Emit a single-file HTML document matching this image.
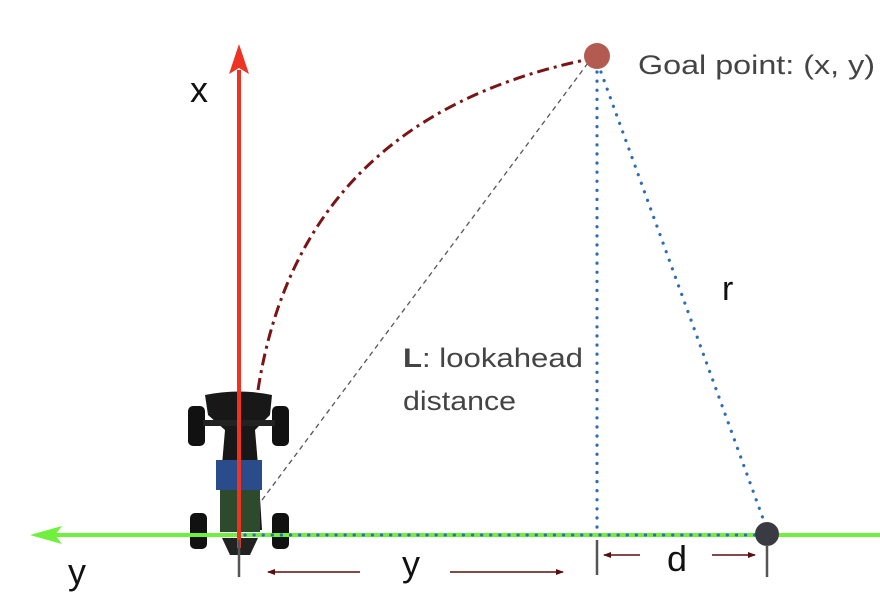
<!DOCTYPE html>
<html><head><meta charset="utf-8"><style>
html,body{margin:0;padding:0;background:#fff;}
svg{display:block;font-family:"Liberation Sans","DejaVu Sans",sans-serif;}
</style></head><body>
<svg width="880" height="592" viewBox="0 0 880 592">
<defs>
<marker id="ah" markerWidth="8" markerHeight="6" refX="7" refY="3" orient="auto" markerUnits="userSpaceOnUse"><path d="M0,0 L8,3 L0,6 Z" fill="#5a0f0f"/></marker>
</defs>
<g>
<rect x="188" y="406" width="17" height="40" rx="5" fill="#111"/>
<rect x="272" y="406" width="17" height="40" rx="5" fill="#111"/>
<rect x="190" y="513" width="17" height="36" rx="5" fill="#111"/>
<rect x="272" y="513" width="17" height="36" rx="5" fill="#111"/>
<path d="M205,395 Q240,388 272,395 L270,415 L255,430 L258,465 L262,530 L220,530 L222,465 L225,430 L208,415 Z" fill="#181818"/>
<rect x="203" y="420" width="72" height="6" fill="#222"/>
<rect x="216" y="460" width="46" height="30" fill="#2a4c8a"/>
<rect x="220" y="490" width="40" height="42" fill="#2d4a2d"/>
<path d="M222,538 L258,538 L250,555 L230,555 Z" fill="#222"/>
</g>
<line x1="55" y1="535" x2="880" y2="535" stroke="#6ef03c" stroke-width="4"/>
<path d="M30,535 L62,526 L55,535 L62,544 Z" fill="#6ef03c"/>
<line x1="239" y1="70" x2="239" y2="548" stroke="#ee3322" stroke-width="4"/>
<path d="M239,44 L229,74 L239,68 L249,74 Z" fill="#ee3322"/>
<line x1="262" y1="500" x2="588" y2="63" stroke="#555" stroke-width="1.3" stroke-dasharray="5,4"/>
<path d="M258,390 Q300,120 585,60" fill="none" stroke="#7a1515" stroke-width="3" stroke-dasharray="12,5,3,5"/>
<g stroke="#2f6db3" stroke-width="3.2" stroke-dasharray="0.1,9" stroke-linecap="round" fill="none">
<line x1="597" y1="72" x2="597" y2="530"/>
<line x1="601" y1="72" x2="765" y2="524"/>
<line x1="245" y1="535" x2="758" y2="535"/>
</g>
<circle cx="597" cy="56" r="13" fill="#b35b50"/>
<circle cx="767" cy="534" r="12" fill="#3a3b42"/>
<g stroke="#555" stroke-width="2.5">
<line x1="239" y1="540" x2="239" y2="577"/>
<line x1="597" y1="540" x2="597" y2="575"/>
<line x1="767" y1="545" x2="767" y2="577"/>
</g>
<g stroke="#5a0f0f" stroke-width="1.5" marker-end="url(#ah)">
<line x1="360" y1="572" x2="268" y2="572"/>
<line x1="450" y1="572" x2="563" y2="572"/>
<line x1="640" y1="555" x2="604" y2="555"/>
<line x1="712" y1="555" x2="755" y2="555"/>
</g>
<text x="190" y="102" font-size="36" fill="#111">x</text>
<text x="68" y="584" font-size="36" fill="#111">y</text>
<text x="722" y="300" font-size="34" fill="#111">r</text>
<text x="402" y="576" font-size="36" fill="#111">y</text>
<text x="667" y="571" font-size="36" fill="#111">d</text>
<text x="638" y="74" font-size="27" fill="#444" textLength="237" lengthAdjust="spacingAndGlyphs">Goal point: (x, y)</text>
<text x="403" y="367" font-size="27" fill="#444" textLength="180" lengthAdjust="spacingAndGlyphs"><tspan font-weight="bold">L</tspan>: lookahead</text>
<text x="403" y="410" font-size="27" fill="#444" textLength="113" lengthAdjust="spacingAndGlyphs">distance</text>
</svg>
</body></html>
